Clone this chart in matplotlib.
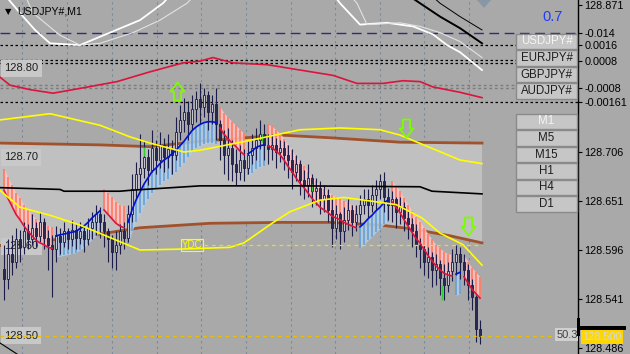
import numpy as np
import matplotlib
matplotlib.use("Agg")
import matplotlib.pyplot as plt
from matplotlib.patches import Rectangle, Polygon
from matplotlib.path import Path

plt.rcParams['font.family'] = ['Liberation Sans', 'DejaVu Sans']

# ---- USDJPY#, M1 candles ----
open0 = 128.575
closes = [128.563, 128.591, 128.583, 128.608, 128.599, 128.617, 128.608, 128.621, 128.612, 128.628,
          128.610, 128.602, 128.597, 128.612, 128.605, 128.617, 128.608, 128.619, 128.610, 128.617,
          128.608, 128.621, 128.628, 128.636, 128.628, 128.617, 128.608, 128.594, 128.602, 128.617,
          128.610, 128.636, 128.664, 128.681, 128.688, 128.700, 128.686, 128.711, 128.697, 128.714,
          128.700, 128.709, 128.703, 128.729, 128.742, 128.751, 128.737, 128.754, 128.765, 128.756,
          128.770, 128.751, 128.760, 128.737, 128.720, 128.703, 128.711, 128.692, 128.684, 128.697,
          128.688, 128.703, 128.711, 128.720, 128.726, 128.714, 128.709, 128.714, 128.706, 128.711,
          128.703, 128.697, 128.684, 128.692, 128.675, 128.669, 128.677, 128.662, 128.666, 128.653,
          128.658, 128.641, 128.621, 128.636, 128.617, 128.630, 128.641, 128.628, 128.636, 128.647,
          128.653, 128.647, 128.658, 128.664, 128.673, 128.655, 128.647, 128.653, 128.639, 128.644,
          128.632, 128.625, 128.617, 128.602, 128.597, 128.583, 128.588, 128.574, 128.580, 128.565,
          128.557, 128.572, 128.583, 128.591, 128.583, 128.574, 128.557, 128.543, 128.507, 128.500]
highs = [128.602, 128.608, 128.613, 128.621, 128.619, 128.628, 128.625, 128.636, 128.628, 128.639,
         128.632, 128.619, 128.613, 128.623, 128.621, 128.628, 128.621, 128.630, 128.625, 128.628,
         128.623, 128.632, 128.639, 128.647, 128.644, 128.636, 128.621, 128.613, 128.617, 128.625,
         128.628, 128.647, 128.681, 128.695, 128.726, 128.718, 128.709, 128.731, 128.720, 128.729,
         128.722, 128.726, 128.720, 128.745, 128.759, 128.767, 128.763, 128.770, 128.774, 128.784,
         128.778, 128.774, 128.770, 128.778, 128.742, 128.731, 128.733, 128.720, 128.709, 128.714,
         128.709, 128.718, 128.726, 128.733, 128.742, 128.737, 128.726, 128.726, 128.722, 128.720,
         128.718, 128.714, 128.709, 128.703, 128.697, 128.686, 128.692, 128.681, 128.677, 128.673,
         128.669, 128.664, 128.653, 128.647, 128.639, 128.644, 128.653, 128.647, 128.647, 128.658,
         128.664, 128.664, 128.669, 128.675, 128.681, 128.684, 128.666, 128.662, 128.655, 128.655,
         128.650, 128.641, 128.632, 128.625, 128.610, 128.602, 128.599, 128.594, 128.591, 128.585,
         128.580, 128.583, 128.597, 128.602, 128.599, 128.591, 128.580, 128.563, 128.546, 128.518]
lows = [128.540, 128.552, 128.568, 128.576, 128.583, 128.591, 128.597, 128.602, 128.599, 128.605,
        128.597, 128.574, 128.543, 128.583, 128.591, 128.599, 128.597, 128.601, 128.597, 128.603,
        128.594, 128.602, 128.608, 128.613, 128.610, 128.599, 128.583, 128.576, 128.574, 128.591,
        128.597, 128.605, 128.628, 128.653, 128.664, 128.677, 128.669, 128.684, 128.681, 128.688,
        128.684, 128.688, 128.681, 128.697, 128.720, 128.729, 128.720, 128.731, 128.740, 128.737,
        128.745, 128.731, 128.737, 128.720, 128.697, 128.681, 128.675, 128.673, 128.669, 128.675,
        128.673, 128.681, 128.692, 128.697, 128.709, 128.697, 128.692, 128.697, 128.688, 128.695,
        128.686, 128.677, 128.664, 128.673, 128.658, 128.653, 128.655, 128.644, 128.647, 128.636,
        128.639, 128.628, 128.599, 128.608, 128.597, 128.605, 128.619, 128.612, 128.617, 128.625,
        128.636, 128.632, 128.639, 128.641, 128.653, 128.639, 128.630, 128.628, 128.621, 128.625,
        128.617, 128.608, 128.599, 128.588, 128.576, 128.568, 128.565, 128.554, 128.557, 128.546,
        128.540, 128.549, 128.561, 128.568, 128.563, 128.557, 128.540, 128.529, 128.493, 128.490]

# trend ribbon: line value per bar, d = down (red), u = up (blue)
ribbon = [128.663, 128.654, 128.645, 128.636, 128.630, 128.623, 128.617, 128.612, 128.607, 128.604, 128.602, 128.599, 128.598,
          128.612, 128.613, 128.614, 128.615, 128.616, 128.617, 128.620, 128.623, 128.627, 128.632, 128.636, 128.640,
          128.641, 128.636, 128.631, 128.626, 128.623, 128.621,
          128.627, 128.641, 128.652, 128.661, 128.670, 128.677, 128.684, 128.688, 128.693, 128.697, 128.700, 128.704,
          128.708, 128.713, 128.718, 128.724, 128.730, 128.734, 128.737, 128.739, 128.740, 128.740, 128.739,
          128.733, 128.726, 128.721, 128.716, 128.712, 128.707, 128.703,
          128.704, 128.707, 128.711, 128.713, 128.714,
          128.713, 128.711, 128.707, 128.703, 128.697, 128.690, 128.684, 128.677, 128.671, 128.666, 128.660, 128.654,
          128.649, 128.644, 128.641, 128.638, 128.634, 128.632, 128.630, 128.627, 128.625, 128.623, 128.621,
          128.622, 128.626, 128.631, 128.635, 128.640, 128.644, 128.649, 128.652,
          128.650, 128.644, 128.638, 128.630, 128.623, 128.616, 128.609, 128.604, 128.597, 128.590, 128.584, 128.578,
          128.574, 128.570, 128.568, 128.567,
          128.569, 128.571,
          128.566, 128.559, 128.552, 128.547, 128.542]
ribbon_dir = "d" * 13 + "u" * 12 + "d" * 6 + "u" * 23 + "d" * 7 + "u" * 5 + "d" * 23 + "u" * 8 + "d" * 16 + "u" * 2 + "d" * 5

# overlay lines (bar position, price)
upper_yellow_x = [-1, 11.5, 24, 31.5, 36.5, 45, 49, 61.5, 74, 84, 94, 99, 106.5, 114, 119.5]
upper_yellow = [128.742, 128.749, 128.736, 128.723, 128.716, 128.706, 128.708, 128.719, 128.731, 128.733,
                128.731, 128.725, 128.711, 128.697, 128.693]
lower_yellow_x = [-1, 4, 11.5, 19, 26.5, 34, 44, 56.5, 60, 67, 71.5, 79, 85, 90, 98, 104.5, 109, 114.75, 119.5]
lower_yellow = [128.663, 128.644, 128.635, 128.624, 128.610, 128.596, 128.597, 128.599, 128.604, 128.626,
                128.639, 128.652, 128.655, 128.652, 128.647, 128.632, 128.615, 128.602, 128.579]
black_x = [-1, 14, 15, 29, 31.5, 49, 74, 104, 107, 119.5]
black_ma = [128.666, 128.664, 128.662, 128.662, 128.663, 128.668, 128.668, 128.667, 128.662, 128.659]
brown_hi_x = [-1, 24, 36.5, 49, 69, 81.5, 99, 119.5]
brown_hi = [128.716, 128.714, 128.712, 128.718, 128.725, 128.722, 128.717, 128.716]
brown_lo_x = [-1, 19.75, 34, 51.5, 69, 81.5, 94, 101.5, 111.5, 119.5]
brown_lo = [128.601, 128.611, 128.621, 128.626, 128.627, 128.627, 128.624, 128.620, 128.612, 128.604]
red_top_x = [-1, 1.5, 6.5, 12.25, 19.75, 28.25, 36.5, 44.75, 49, 52.25, 57.25, 65.75, 74, 82.25, 88.25,
             94.75, 99.75, 104, 107.25, 114, 119.5]
red_top = [128.790, 128.781, 128.776, 128.772, 128.778, 128.785, 128.796, 128.806, 128.808, 128.812, 128.806,
           128.804, 128.798, 128.792, 128.783, 128.783, 128.786, 128.785, 128.779, 128.773, 128.767]
white_x = [0.25, 4, 7.75, 11.5, 19, 26.5, 34, 39.75, 42.75, 61.5, 81.5, 84, 89, 95.75, 102.25, 107.25,
           110.75, 114, 119.5]
white = [128.882, 128.862, 128.843, 128.828, 128.826, 128.840, 128.854, 128.873, 128.888, 128.922, 128.888,
         128.873, 128.849, 128.851, 128.847, 128.838, 128.826, 128.818, 128.798]
white_thin_x = [5.25, 7.25, 14, 19, 24, 32.25, 39, 45.75, 49, 69, 85.25, 88.25, 90.75, 99, 104, 109, 114, 119.5]
white_thin = [128.882, 128.862, 128.837, 128.826, 128.828, 128.840, 128.854, 128.873, 128.888, 128.922,
              128.888, 128.873, 128.849, 128.851, 128.847, 128.840, 128.830, 128.812]
black_top_x = [99, 104, 109, 114, 119.5]
black_top = [128.888, 128.873, 128.858, 128.845, 128.828]
black_top_thin_x = [105.25, 109, 114, 119.5]
black_top_thin = [128.888, 128.873, 128.858, 128.843]

# levels and labels
price_ticks = [128.871, 128.706, 128.651, 128.596, 128.541, 128.486]
level_ticks = [128.840, 128.826, 128.808, 128.778, 128.762]
level_labels = ['-0.014', '0.0016', '0.0008', '-0.0008', '-0.00161']
left_labels = [128.80, 128.70, 128.60, 128.50]
bid = 128.500
ydc = 128.602
up_arrows = ([43.25], [128.775])
down_arrows = ([100.5, 116], [128.733, 128.623])
green_ticks_x = [35, 64.5, 77, 109.5]
green_ticks_lo = [128.701, 128.717, 128.662, 128.540]
green_ticks_hi = [128.712, 128.726, 128.670, 128.557]
pairs = ['USDJPY#', 'EURJPY#', 'GBPJPY#', 'AUDJPY#']
frames = ['M1', 'M5', 'M15', 'H1', 'H4', 'D1']

BG = '#a9a9a9'
fig = plt.figure(figsize=(6.3, 3.54), dpi=100, facecolor=BG)
ax = fig.add_axes([0, 0, 578 / 630, 1])
ax.set_facecolor(BG)
ax.set_xlim(-1, 143.5)
ax.set_ylim(128.4793, 128.8766)

# grid
grid_x = [4.5, 15.75, 27, 38.25, 49.25, 60.5, 71.75, 82.75, 94, 105, 116.25]
ax.set_xticks(grid_x)
ax.tick_params(axis='x', length=0, labelbottom=False)
ax.grid(axis='x', color='#7a8898', linestyle=(0, (2, 3)), lw=0.8)
ax.set_axisbelow(True)

# light channel between brown lines
ax.fill(list(brown_hi_x) + brown_lo_x[::-1], list(brown_hi) + brown_lo[::-1], color='#c0c0c0', lw=0, zorder=1)

# level lines
ax.axhline(128.840, color='#2e2e78', lw=1, ls=(0, (7, 4)), zorder=1.5)
for lv in [128.826, 128.809, 128.806, 128.762]:
    ax.axhline(lv, color='black', lw=0.9, ls=(0, (2, 2)), zorder=1.5)
for lv in [128.781, 128.778]:
    ax.axhline(lv, color='#7c7c7c', lw=1, ls=(0, (2, 2)), zorder=1.5)

# correlation lines at top
ax.plot(red_top_x, red_top, color='#dc143c', lw=1.2, zorder=2)
ax.plot(white_x, white, color='white', lw=1.3, zorder=2)
ax.plot(white_thin_x, white_thin, color='#e2e2e2', lw=0.8, zorder=2)
ax.plot(black_top_x, black_top, color='black', lw=1.4, zorder=2)
ax.plot(black_top_thin_x, black_top_thin, color='black', lw=0.7, zorder=2)

# brown channel
ax.plot(brown_hi_x, brown_hi, color='#a0522d', lw=2, zorder=2.5)
ax.plot(brown_lo_x, brown_lo, color='#a0522d', lw=2, zorder=2.5)

# left price labels
for v in left_labels:
    ax.annotate(f"{v:.2f}", xy=(0, v), xycoords=('axes fraction', 'data'), xytext=(3, 0),
                textcoords='offset points', va='center', ha='left', fontsize=8, color='#202020',
                bbox=dict(fc='#c8c8c8', ec='none', boxstyle='square,pad=0.3'), zorder=3.2)

# trend ribbon
idx = np.arange(len(closes))
rib = np.array(ribbon)
h = 0.024
start = 0
for k in range(1, len(ribbon_dir) + 1):
    if k == len(ribbon_dir) or ribbon_dir[k] != ribbon_dir[start]:
        seg = idx[start:k]
        line = rib[start:k]
        if ribbon_dir[start] == 'd':
            ax.fill_between(seg, line, line + h, color='#ffc4c4', alpha=0.85, lw=0, zorder=3)
            ax.vlines(seg, line, line + h, color='#ff7a62', lw=1.2, zorder=3.05)
            ax.plot(seg, line, color='#dc143c', lw=1.2, zorder=4.5)
        else:
            ax.fill_between(seg, line - h, line, color='#b2cde6', alpha=0.85, lw=0, zorder=3)
            ax.vlines(seg, line - h, line, color='#68a0d4', lw=1.2, zorder=3.05)
            ax.plot(seg, line, color='#0010d0', lw=1.2, zorder=4.5)
        start = k

# candles
o = np.array([open0] + closes[:-1])
c = np.array(closes)
hi = np.maximum(np.array(highs), np.maximum(o, c))
lo = np.minimum(np.array(lows), np.minimum(o, c))
bull = c >= o
bottoms = np.minimum(o, c)
heights = np.maximum(np.abs(c - o), 0.0004)
ax.vlines(idx, lo, hi, color='#1c1c48', lw=0.8, zorder=4)
ax.bar(idx, heights, bottom=bottoms, width=0.7,
       color=np.where(bull, '#c4c4d4', '#2a2a52'), edgecolor='#1c1c48', linewidth=0.6, zorder=4.1)
ax.vlines(green_ticks_x, green_ticks_lo, green_ticks_hi, color='#32cd32', lw=1, zorder=4.2)

# moving averages / bands
ax.plot(black_x, black_ma, color='black', lw=1.2, zorder=5)
ax.plot(upper_yellow_x, upper_yellow, color='#ffff00', lw=1.2, zorder=5)
ax.plot(lower_yellow_x, lower_yellow, color='#ffff00', lw=1.2, zorder=5)

# yesterday close and bid
ax.hlines(ydc, 50, 119.5, color='#f0e000', lw=0.9, ls=(0, (3, 3)), zorder=5)
ax.text(47, ydc, "YDC", color='#ffff00', fontsize=7, ha='center', va='center', zorder=5,
        bbox=dict(fc='none', ec='#ffff00', lw=0.8, boxstyle='square,pad=0.1'))
ax.axhline(bid, color='#e8c000', lw=0.9, ls=(0, (3, 3)), zorder=5)

# signal arrows
up_path = Path([(-0.2, -0.5), (0.2, -0.5), (0.2, 0.0), (0.38, 0.0), (0, 0.5), (-0.38, 0.0), (-0.2, 0.0), (-0.2, -0.5)],
               closed=True)
down_path = Path([(x, -y) for x, y in up_path.vertices], closed=True)
ax.plot(*up_arrows, ls='none', marker=up_path, markersize=13, mfc='none', mec='#7cfc00', mew=1.3, zorder=6)
ax.plot(*down_arrows, ls='none', marker=down_path, markersize=13, mfc='none', mec='#7cfc00', mew=1.3, zorder=6)

# right price axis
for s in ['top', 'left', 'bottom']:
    ax.spines[s].set_visible(False)
ax.spines['right'].set_color('black')
ax.spines['right'].set_linewidth(1)
ax.yaxis.tick_right()
ax.set_yticks(price_ticks + level_ticks, [f"{p:.3f}" for p in price_ticks] + level_labels)
ax.tick_params(axis='y', direction='out', length=3, width=0.8, colors='black', labelsize=7.8, pad=1.5)

ax.annotate(f"{bid:.3f}", xy=(1, bid), xycoords=('axes fraction', 'data'), xytext=(3, -1),
            textcoords='offset points', va='center', ha='left', fontsize=7.8, color='#d8d8d8',
            bbox=dict(fc='#ffd700', ec='none', boxstyle='square,pad=0.15'), zorder=7, annotation_clip=False)

# overlay: buttons, title, labels (pixel layout)
ov = fig.add_axes([0, 0, 1, 1], zorder=10)
ov.set_xlim(0, 630)
ov.set_ylim(354, 0)
ov.axis('off')
ov.patch.set_alpha(0)


def button(y0, text, active):
    ov.add_patch(Rectangle((516, y0), 61, 15.5, fc='#c6c6c6', ec='#8a8a8a', lw=1))
    ov.text(546.5, y0 + 8, text, ha='center', va='center', fontsize=8.3,
            color='#f4f4f4' if active else '#1e1e1e')


for k, name in enumerate(pairs):
    button(33.5 + 16.5 * k, name, k == 0)
for k, name in enumerate(frames):
    button(113.5 + 16.5 * k, name, k == 0)

ov.text(5, 12, "\u25bc", fontsize=6, color='black', va='center', family='DejaVu Sans')
ov.text(17, 12, "USDJPY#,M1", fontsize=7.6, color='black', va='center')
ov.text(553, 17, "0.7", fontsize=10.5, color='#1e3cff', ha='center', va='center')
ov.add_patch(Polygon([(477, 0), (491, 0), (484, 8)], closed=True, fc='#8797a8', ec='none'))
ov.add_patch(Rectangle((555, 328), 23, 13, fc='#d0d0d0', ec='none'))
ov.text(557, 335, "50.3", fontsize=8, color='#404040', va='center')
ov.add_patch(Rectangle((578, 326), 48, 3.5, fc='black', ec='none'))
ov.add_patch(Rectangle((576.5, 318), 3, 18, fc='black', ec='none'))
ov.plot([0, 17], [343, 354], color='black', lw=0.8)

fig.savefig("out.png", dpi=100, facecolor=fig.get_facecolor())
